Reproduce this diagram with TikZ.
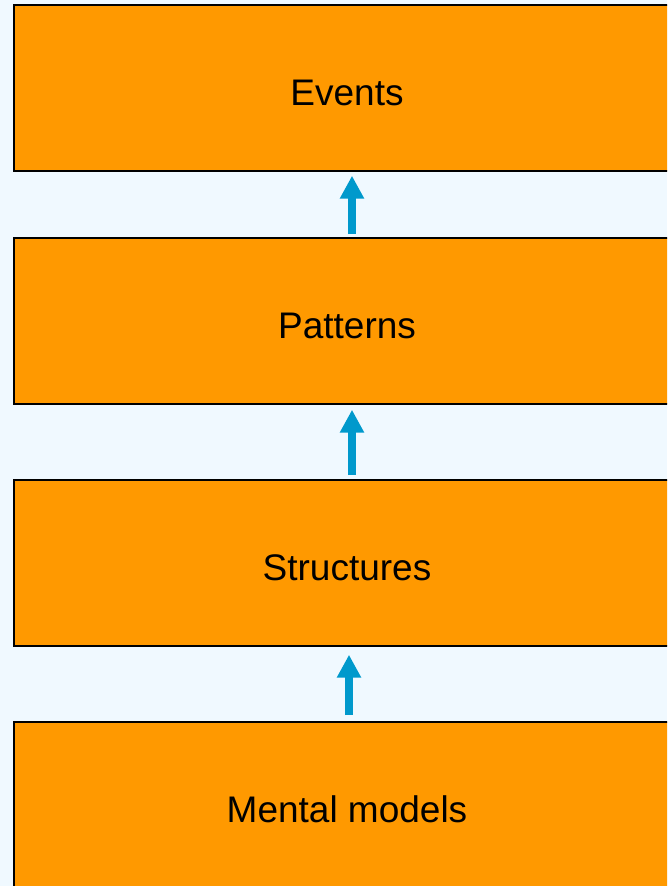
\documentclass[tikz,border=0pt]{standalone}
\usepackage{fontspec}
\setmainfont{Liberation Sans}
\usepackage{xcolor}
\usetikzlibrary{arrows.meta}
\definecolor{boxorange}{HTML}{FF9900}
\definecolor{bgblue}{HTML}{F0F9FF}
\definecolor{arrowblue}{HTML}{0099CC}

\begin{document}
\begin{tikzpicture}[x=1pt, y=1pt,
    level/.style={draw=black, line width=1.5pt, fill=boxorange, minimum width=666pt,
        minimum height=166pt, inner sep=0pt, text height=35pt, text depth=0pt,
        font=\fontsize{37}{44}\selectfont},
    up/.style={-{Triangle[length=23pt, width=23pt]}, line width=8pt, arrowblue}]
            \fill [bgblue] (0,0) rectangle (667,886);
            \useasboundingbox (0,0) rectangle (667,886);
            \clip (0,0) rectangle (667,886);
            \node [level] (ev) at (347,798) {Events};
            \node [level] (pat) at (347,565) {Patterns};
            \node [level] (str) at (347,323) {Structures};
            \node [level] (men) at (347,81) {Mental models};
            \draw [up] ([xshift=5pt, yshift=3pt]pat.north) -- ([xshift=5pt, yshift=-4pt]ev.south);
            \draw [up] ([xshift=5pt, yshift=4pt]str.north) -- ([xshift=5pt, yshift=-5pt]pat.south);
            \draw [up] ([xshift=2pt, yshift=6pt]men.north) -- ([xshift=2pt, yshift=-8pt]str.south);
        \end{tikzpicture}
\end{document}
